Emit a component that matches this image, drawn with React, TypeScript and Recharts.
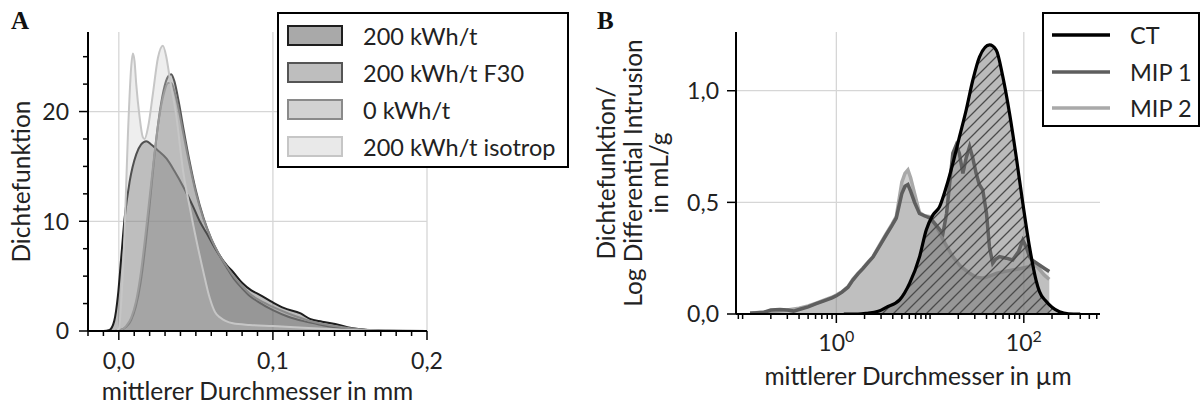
import { AreaChart, Area, XAxis, YAxis, CartesianGrid, Legend, Label } from "recharts"

const FONT = "Lato, 'DejaVu Sans', sans-serif"

// ---------- Panel A: Dichtefunktion über mittlerem Durchmesser (mm) ----------
const kwh200 = [
  [-0.02, 0], [-0.01, 0], [-0.006, 0.1], [-0.003, 0.9], [-0.0006, 3.2], [0.0015, 6.6],
  [0.0037, 10.2], [0.007, 13.6], [0.0113, 16.1], [0.0145, 17.0], [0.0178, 17.3],
  [0.021, 17.0], [0.025, 16.5], [0.031, 15.7], [0.036, 14.6], [0.042, 13.1],
  [0.048, 11.4], [0.0525, 10.0], [0.057, 8.9], [0.063, 7.4], [0.07, 6.0], [0.074, 5.4],
  [0.08, 4.4], [0.086, 3.7], [0.0915, 3.3], [0.1, 2.6], [0.107, 2.1], [0.118, 1.6],
  [0.124, 1.1], [0.132, 0.85], [0.143, 0.55], [0.15, 0.3], [0.16, 0.12], [0.17, 0.05],
  [0.185, 0.01], [0.2, 0],
]
const kwh200F30 = [
  [-0.02, 0], [-0.005, 0], [0, 0.05], [0.005, 0.4], [0.008, 1.0], [0.011, 2.2],
  [0.014, 4.3], [0.017, 7.5], [0.02, 11.5], [0.023, 15.8], [0.026, 19.4], [0.029, 21.9],
  [0.032, 23.2], [0.034, 23.4], [0.036, 22.8], [0.039, 20.8], [0.042, 18.4], [0.046, 15.4],
  [0.05, 12.8], [0.055, 10.3], [0.06, 8.4], [0.065, 7.0], [0.07, 5.8], [0.075, 4.7],
  [0.08, 3.9], [0.085, 3.2], [0.09, 2.7], [0.1, 1.9], [0.11, 1.3], [0.12, 0.9],
  [0.13, 0.6], [0.14, 0.35], [0.15, 0.2], [0.16, 0.1], [0.175, 0.03], [0.2, 0],
]
const kwh0 = [
  [-0.02, 0], [-0.005, 0], [0, 0.05], [0.005, 0.5], [0.008, 1.2], [0.011, 2.6],
  [0.014, 5.0], [0.017, 8.4], [0.02, 12.2], [0.023, 16.0], [0.026, 19.3], [0.029, 21.5],
  [0.032, 22.6], [0.034, 22.6], [0.036, 21.9], [0.039, 20.1], [0.042, 17.9], [0.046, 15.1],
  [0.05, 12.6], [0.055, 10.2], [0.06, 8.4], [0.065, 7.0], [0.07, 5.9], [0.075, 4.9],
  [0.08, 4.1], [0.085, 3.4], [0.09, 2.9], [0.1, 2.2], [0.11, 1.6], [0.12, 1.1],
  [0.13, 0.7], [0.14, 0.45], [0.15, 0.25], [0.16, 0.12], [0.175, 0.04], [0.2, 0],
]
const kwh200Iso = [
  [-0.02, 0], [-0.002, 0], [0, 0.2], [0.0015, 2.5], [0.0037, 8.9], [0.0059, 17.9],
  [0.0081, 24.2], [0.0091, 25.3], [0.0102, 24.6], [0.0113, 22.5], [0.0135, 19.5],
  [0.0155, 17.7], [0.0167, 17.5], [0.019, 18.6], [0.0221, 21.6], [0.0254, 24.9],
  [0.0286, 26.0], [0.0308, 25.0], [0.033, 23.1], [0.0373, 19.6], [0.0417, 14.6],
  [0.046, 11.3], [0.0503, 8.3], [0.0547, 5.5], [0.059, 3.0], [0.0625, 1.7], [0.066, 1.2],
  [0.074, 0.7], [0.085, 0.55], [0.1, 0.45], [0.12, 0.3], [0.14, 0.15], [0.16, 0.05], [0.2, 0],
]

const aXTicks = [
  -0.02, -0.01, 0, 0.01, 0.02, 0.03, 0.04, 0.05, 0.06, 0.07, 0.08, 0.09, 0.1,
  0.11, 0.12, 0.13, 0.14, 0.15, 0.16, 0.17, 0.18, 0.19, 0.2,
]
const aXMajor = [0, 0.1, 0.2]
const aYTicks = [0, 2.5, 5, 7.5, 10, 12.5, 15, 17.5, 20, 22.5, 25]
const aYMajor = [0, 10, 20]

const seriesA = [
  { name: "200 kWh/t", pts: kwh200, color: "#1e1e1e" },
  { name: "200 kWh/t F30", pts: kwh200F30, color: "#555555" },
  { name: "0 kWh/t", pts: kwh0, color: "#8a8a8a" },
  { name: "200 kWh/t isotrop", pts: kwh200Iso, color: "#c6c6c6" },
]

// ---------- Panel B: CT vs. Quecksilberporosimetrie (µm, log) ----------
const ct = [
  [1.2, 0], [1.7, 0], [2.09, 0.003], [2.8, 0.012], [3.41, 0.03], [4.73, 0.063],
  [6.04, 0.137], [7.73, 0.257], [9.1, 0.376], [10.7, 0.443], [12.6, 0.48], [14.9, 0.57],
  [17.5, 0.675], [20.6, 0.794], [24.3, 0.914], [28.6, 1.048], [33.7, 1.152], [43.1, 1.205],
  [50.8, 1.182], [59.7, 1.063], [70.4, 0.899], [83, 0.704], [97.6, 0.496], [115, 0.301],
  [135, 0.152], [147, 0.1], [172, 0.058], [200, 0.03], [240, 0.01], [300, 0.001], [400, 0],
]
const mip1 = [
  [0.12, 0.003], [0.17, 0.008], [0.2, 0.018], [0.25, 0.02], [0.3, 0.018], [0.35, 0.013],
  [0.4, 0.02], [0.5, 0.032], [0.6, 0.045], [0.75, 0.06], [0.9, 0.072], [1.0, 0.082],
  [1.15, 0.098], [1.33, 0.12], [1.5, 0.152], [1.7, 0.18], [1.92, 0.203], [2.2, 0.232],
  [2.46, 0.255], [2.9, 0.305], [3.41, 0.355], [3.9, 0.395], [4.36, 0.43], [4.7, 0.49],
  [5.0, 0.54], [5.4, 0.572], [5.8, 0.58], [6.2, 0.55], [6.83, 0.5], [7.7, 0.45],
  [8.7, 0.44], [9.9, 0.43], [11.5, 0.4], [13.7, 0.36], [15, 0.45], [16.5, 0.62],
  [17.5, 0.72], [19, 0.757], [20.5, 0.72], [22.4, 0.63], [24.3, 0.7], [26.4, 0.75],
  [28.5, 0.7], [31, 0.63], [33.5, 0.58], [36.5, 0.555], [40, 0.45], [43, 0.3],
  [46.6, 0.227], [50, 0.245], [55, 0.257], [65, 0.25], [76, 0.242], [88, 0.28],
  [97.6, 0.331], [106, 0.3], [115, 0.257], [122, 0.242], [140, 0.225], [165, 0.205], [187, 0.19],
]
const mip2 = [
  [0.12, 0.005], [0.2, 0.01], [0.3, 0.018], [0.4, 0.026], [0.5, 0.036], [0.6, 0.048],
  [0.75, 0.063], [0.9, 0.075], [1.0, 0.085], [1.15, 0.1], [1.33, 0.122], [1.5, 0.155],
  [1.7, 0.182], [1.92, 0.205], [2.2, 0.235], [2.46, 0.257], [2.9, 0.31], [3.41, 0.36],
  [3.9, 0.4], [4.36, 0.436], [4.7, 0.52], [5.0, 0.59], [5.4, 0.63], [5.8, 0.645],
  [6.2, 0.61], [6.83, 0.54], [7.7, 0.455], [8.7, 0.44], [9.9, 0.436], [11, 0.41],
  [12.6, 0.365], [14.5, 0.315], [17.5, 0.257], [21, 0.215], [26.4, 0.182], [31, 0.165],
  [36.5, 0.16], [43, 0.17], [50.8, 0.182], [62, 0.19], [76.4, 0.197], [95, 0.205],
  [115, 0.212], [122, 0.225], [140, 0.21], [165, 0.175], [187, 0.155],
]

const bXTicks = [
  0.09, 0.1, 0.2, 0.3, 0.4, 0.5, 0.6, 0.7, 0.8, 0.9, 1, 2, 3, 4, 5, 6, 7, 8, 9,
  10, 20, 30, 40, 50, 60, 70, 80, 90, 100, 200, 300, 400, 500, 600,
]
const bXMajor = [1, 100]
const bYTicks = [0, 0.5, 1.0]

const seriesB = [
  { name: "MIP 2", pts: mip2, color: "#a9a9a9", fill: "#999999", fillOpacity: 0.45 },
  { name: "MIP 1", pts: mip1, color: "#5e5e5e", fill: "#777777", fillOpacity: 0.2 },
  { name: "CT", pts: ct, color: "#000000", fill: "url(#ctHatch)", fillOpacity: 1 },
]
const legendB = [
  { name: "CT", color: "#000000" },
  { name: "MIP 1", color: "#5e5e5e" },
  { name: "MIP 2", color: "#a9a9a9" },
]

const toPts = (pairs: number[][]) => pairs.map(([x, y]) => ({ x, y }))
const has = (list: number[], v: number) => list.some((m) => Math.abs(m - v) < 1e-9)
const de = (v: number) => v.toFixed(1).replace(".", ",")

const TXT = { fontFamily: FONT, fontSize: 23, fill: "#222" }
const TITLE = { ...TXT, fontSize: 24.5 }
const AXIS_W = 60

const XTickA = ({ x, y, payload }: any) => {
  const major = has(aXMajor, payload.value)
  return (
    <g>
      <line x1={x} x2={x} y1={y} y2={y + (major ? 9 : 5)} stroke="#000" strokeWidth={1.5} />
      {major && (
        <text x={x} y={y + 38} textAnchor="middle" {...TXT}>
          {de(payload.value)}
        </text>
      )}
    </g>
  )
}

const YTickA = ({ x, y, payload }: any) => {
  const major = has(aYMajor, payload.value)
  return (
    <g>
      <line x1={x - (major ? 9 : 5)} x2={x} y1={y} y2={y} stroke="#000" strokeWidth={1.5} />
      {major && (
        <text x={x - 19} y={y} dy="0.36em" textAnchor="end" {...TXT}>
          {payload.value}
        </text>
      )}
    </g>
  )
}

const XTickB = ({ x, y, payload }: any) => {
  const major = has(bXMajor, payload.value)
  return (
    <g>
      <line x1={x} x2={x} y1={y} y2={y + (major ? 9 : 5)} stroke="#000" strokeWidth={1.5} />
      {major && (
        <text x={x} y={y + 37} textAnchor="middle" {...TXT}>
          <tspan>10</tspan>
          <tspan dy={-9} fontSize={16}>{Math.round(Math.log10(payload.value))}</tspan>
        </text>
      )}
    </g>
  )
}

const YTickB = ({ x, y, payload }: any) => (
  <g>
    <line x1={x - 9} x2={x} y1={y} y2={y} stroke="#000" strokeWidth={1.5} />
    <text x={x - 17} y={y} dy="0.36em" textAnchor="end" {...TXT}>
      {de(payload.value)}
    </text>
  </g>
)

const LegendA = () => (
  <div
    style={{
      width: 292, height: 156, boxSizing: "border-box", border: "2px solid #000",
      background: "#fff", paddingTop: 3, fontFamily: FONT, fontSize: 23.5, color: "#222",
    }}
  >
    {seriesA.map((s) => (
      <div key={s.name} style={{ display: "flex", alignItems: "center", height: 37 }}>
        <svg width={56} height={21} style={{ marginLeft: 8 }}>
          <rect x={1} y={1} width={54} height={19} fill="#fff" />
          <rect x={1} y={1} width={54} height={19} fill={s.color} fillOpacity={0.38}
            stroke={s.color} strokeWidth={2} />
        </svg>
        <span style={{ marginLeft: 20 }}>{s.name}</span>
      </div>
    ))}
  </div>
)

const LegendB = () => (
  <div
    style={{
      width: 158, height: 115, boxSizing: "border-box", border: "2px solid #000",
      background: "#fff", paddingTop: 3, fontFamily: FONT, fontSize: 23.5, color: "#222",
    }}
  >
    {legendB.map((s) => (
      <div key={s.name} style={{ display: "flex", alignItems: "center", height: 36.5 }}>
        <svg width={60} height={10} style={{ marginLeft: 8 }}>
          <line x1={0} x2={58} y1={5} y2={5} stroke={s.color} strokeWidth={3.5} />
        </svg>
        <span style={{ marginLeft: 18 }}>{s.name}</span>
      </div>
    ))}
  </div>
)

const panelLetter = (left: number, text: string) => (
  <div
    style={{
      position: "absolute", left, top: 6, fontFamily: "'Liberation Serif', serif",
      fontWeight: "bold", fontSize: 25, lineHeight: "30px", color: "#111",
    }}
  >
    {text}
  </div>
)

export default function App() {
  return (
    <div style={{ position: "absolute", left: 0, top: 0, width: 1201, height: 408, background: "#fff" }}>
      {panelLetter(11, "A")}
      {panelLetter(597, "B")}

      <div style={{ position: "absolute", left: 0, top: 0 }}>
        <AreaChart width={580} height={408}
          margin={{ top: 32, right: 153, bottom: 77 - AXIS_W, left: 88 - AXIS_W }}>
          <CartesianGrid horizontalValues={[10, 20]} verticalValues={aXMajor}
            stroke="#d6d6d6" strokeWidth={1.3} />
          <XAxis type="number" dataKey="x" domain={[-0.02, 0.2]} allowDataOverflow
            ticks={aXTicks} interval={0} height={AXIS_W} tickSize={0} tickMargin={0}
            tickLine={false} axisLine={{ stroke: "#000", strokeWidth: 2 }} tick={<XTickA />}>
            <Label content={({ viewBox }: any) => (
              <text x={viewBox.x + viewBox.width / 2} y={viewBox.y + 69} textAnchor="middle" {...TITLE}>
                mittlerer Durchmesser in mm
              </text>
            )} />
          </XAxis>
          <YAxis type="number" domain={[0, 27.25]} allowDataOverflow ticks={aYTicks}
            interval={0} width={AXIS_W} tickSize={0} tickMargin={0} tickLine={false}
            axisLine={{ stroke: "#000", strokeWidth: 2 }} tick={<YTickA />}>
            <Label content={({ viewBox }: any) => {
              const cx = viewBox.x + viewBox.width - 58
              const cy = viewBox.y + viewBox.height / 2
              return (
                <text x={cx} y={cy} textAnchor="middle" transform={`rotate(-90 ${cx} ${cy})`} {...TITLE}>
                  Dichtefunktion
                </text>
              )
            }} />
          </YAxis>
          {seriesA.map((s) => (
            <Area key={s.name} data={toPts(s.pts)} dataKey="y" type="monotone"
              stroke={s.color} strokeWidth={2} fill={s.color} fillOpacity={0.3}
              dot={false} activeDot={false} isAnimationActive={false} />
          ))}
          <Legend content={<LegendA />} layout="vertical" align="center" verticalAlign="middle"
            wrapperStyle={{ left: 277, top: 12, width: 292, height: 156 }} />
        </AreaChart>
      </div>

      <div style={{ position: "absolute", left: 580, top: 0 }}>
        <AreaChart width={621} height={408}
          margin={{ top: 32, right: 101, bottom: 94 - AXIS_W, left: 156 - AXIS_W }}>
          <defs>
            <pattern id="ctHatch" patternUnits="userSpaceOnUse" width={11} height={11}>
              <rect width={11} height={11} fill="#666" fillOpacity={0.45} />
              <path d="M-1,1 l2,-2 M0,11 l11,-11 M10,12 l2,-2" stroke="#4a4a4a" strokeWidth={1.3} />
            </pattern>
          </defs>
          <CartesianGrid horizontalValues={[0.5, 1.0]} verticalValues={bXMajor}
            stroke="#d6d6d6" strokeWidth={1.3} />
          <XAxis type="number" dataKey="x" scale="log" domain={[0.085, 650]} allowDataOverflow
            ticks={bXTicks} interval={0} height={AXIS_W} tickSize={0} tickMargin={0}
            tickLine={false} axisLine={{ stroke: "#000", strokeWidth: 2 }} tick={<XTickB />}>
            <Label content={({ viewBox }: any) => (
              <text x={viewBox.x + viewBox.width / 2} y={viewBox.y + 71} textAnchor="middle" {...TITLE}>
                mittlerer Durchmesser in µm
              </text>
            )} />
          </XAxis>
          <YAxis type="number" domain={[0, 1.263]} allowDataOverflow ticks={bYTicks}
            interval={0} width={AXIS_W} tickSize={0} tickMargin={0} tickLine={false}
            axisLine={{ stroke: "#000", strokeWidth: 2 }} tick={<YTickB />}>
            <Label content={({ viewBox }: any) => {
              const cy = viewBox.y + viewBox.height / 2
              const right = viewBox.x + viewBox.width
              const lines = ["Dichtefunktion/", "Log Differential Intrusion", "in mL/g"]
              return (
                <g>
                  {lines.map((t, i) => {
                    const cx = right - 121 + i * 26.5
                    return (
                      <text key={t} x={cx} y={cy} textAnchor="middle"
                        transform={`rotate(-90 ${cx} ${cy})`} {...TITLE}>
                        {t}
                      </text>
                    )
                  })}
                </g>
              )
            }} />
          </YAxis>
          {seriesB.map((s) => (
            <Area key={s.name} data={toPts(s.pts)} dataKey="y"
              type={s.name === "CT" ? "monotone" : "linear"}
              stroke={s.color} strokeWidth={s.name === "CT" ? 3.2 : 3.5}
              fill={s.fill} fillOpacity={s.fillOpacity}
              dot={false} activeDot={false} isAnimationActive={false} />
          ))}
          <Legend content={<LegendB />} layout="vertical" align="center" verticalAlign="middle"
            wrapperStyle={{ left: 462, top: 12, width: 158, height: 115 }} />
        </AreaChart>
      </div>
    </div>
  )
}
